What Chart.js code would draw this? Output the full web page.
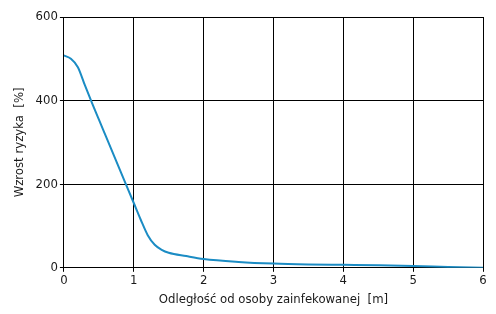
<!DOCTYPE html>
<html><head><meta charset="utf-8">
<script src="https://cdn.jsdelivr.net/npm/chart.js@4"></script>
<style>html,body{margin:0;padding:0;background:#fff}#w{width:496px;height:314px}</style>
</head><body><div id="w"><canvas id="c"></canvas></div>
<script>
const distances = [0,0.1,0.2,0.3,0.4,0.5,0.6,0.7,0.8,0.9,1.0,1.1,1.2,1.3,1.4,1.5,1.75,2,2.5,3,3.5,4,4.5,5,5.5,6];
const riskIncrease = [508,500,480,437,395,355,315,275,235,195,155,115,78,55,43,36,28,21,14,10,8,7,6,4.5,2,0];
const xTicks = [0,1,2,3,4,5,6];
const yTicks = [0,200,400,600];
const xTitle = 'Odległość od osoby zainfekowanej  [m]';
const yTitle = 'Wzrost ryzyka  [%]';
const FONT = '"DejaVu Sans Condensed", "Liberation Sans", sans-serif';
new Chart(document.getElementById('c'), {
  type: 'scatter',
  data: { datasets: [{
    data: distances.map((x,i)=>({x, y: riskIncrease[i]})),
    showLine: true, borderColor: '#1b8cc4', borderWidth: 2, pointRadius: 0,
    cubicInterpolationMode: 'monotone'
  }]},
  options: {
    responsive: true, maintainAspectRatio: false, animation: false,
    layout: { padding: { left: 12, right: 13, top: 17, bottom: 7 } },
    plugins: { legend: { display: false }, tooltip: { enabled: false } },
    scales: {
      x: { type: 'linear', min: 0, max: 6,
        afterBuildTicks: a => { a.ticks = xTicks.map(v=>({value:v})); },
        grid: { color: '#000', lineWidth: 1, tickLength: 4, drawTicks: true },
        border: { color: '#000', width: 1 },
        ticks: { color: '#1a1a1a', font: { family: FONT, size: 13 }, padding: 1 },
        title: { display: true, text: xTitle, color: '#1a1a1a', font: { family: FONT, size: 13 }, padding: { top: 2, bottom: 0 } }
      },
      y: { min: 0, max: 600,
        afterBuildTicks: a => { a.ticks = yTicks.map(v=>({value:v})); },
        grid: { color: '#000', lineWidth: 1, tickLength: 4 },
        border: { color: '#000', width: 1 },
        ticks: { color: '#1a1a1a', font: { family: FONT, size: 13 }, padding: 2 },
        title: { display: true, text: yTitle, color: '#1a1a1a', font: { family: FONT, size: 13 }, padding: { top: 0, bottom: 6 } }
      }
    }
  }
});
</script></body></html>
